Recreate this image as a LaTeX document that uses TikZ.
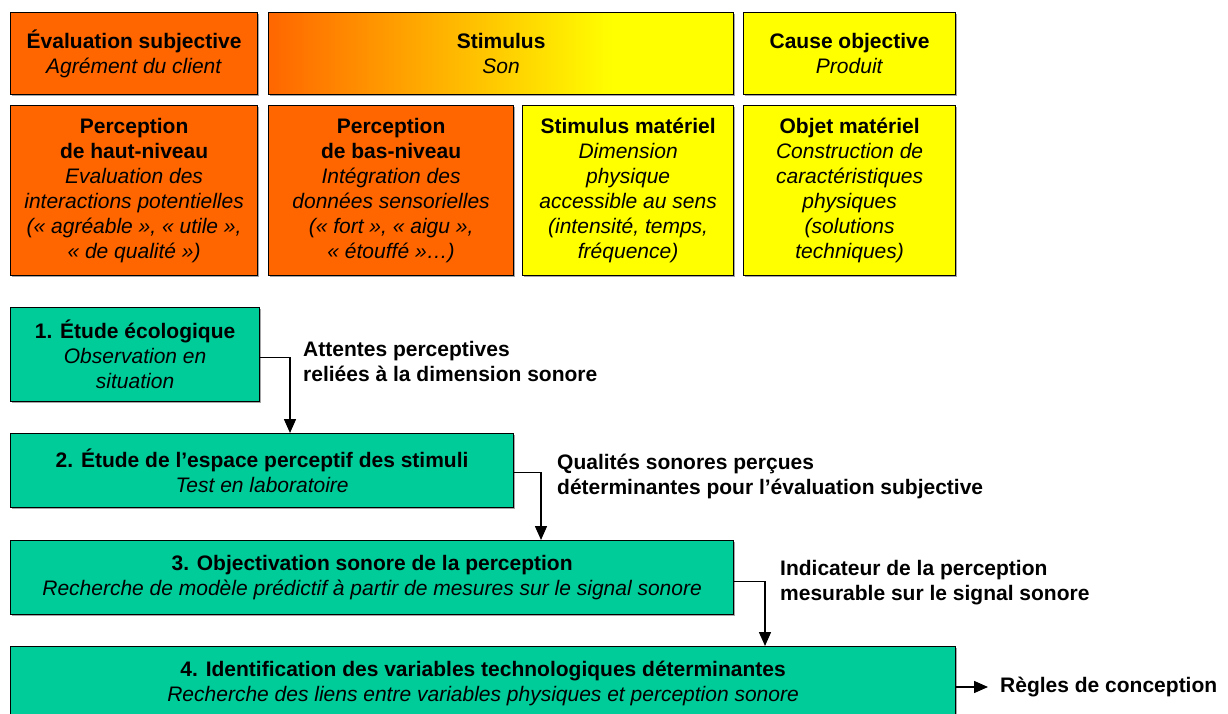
\documentclass[tikz,border=0pt]{standalone}
\usepackage{fontspec}
\setmainfont{Liberation Sans}
\usetikzlibrary{arrows.meta,shadows}
\definecolor{orng}{HTML}{FF6600}
\definecolor{yell}{HTML}{FFFF00}
\definecolor{grn}{HTML}{00CC99}
\pgfdeclarehorizontalshading{stimshade}{100bp}{color(0bp)=(orng); color(25bp)=(orng); color(62bp)=(yell); color(100bp)=(yell)}
\begin{document}
\begin{tikzpicture}[x=1pt,y=-1pt,
 box/.style={draw=black, line width=1.2pt, anchor=north west, inner sep=0pt, align=center,
   font=\fontsize{21}{25}\selectfont,
   drop shadow={shadow xshift=1.5pt, shadow yshift=-1.5pt, fill=black!35, opacity=1}},
 obox/.style={box, fill=orng},
 sbox/.style={box, shading=stimshade},
 ybox/.style={box, fill=yell},
 gbox/.style={box, fill=grn},
 lbl/.style={anchor=west, inner sep=0pt, align=left, font=\fontsize{21}{25}\selectfont\bfseries},
 conn/.style={draw=black, line width=1.5pt, -{Triangle[length=14pt,width=12pt]}}
]
\clip (0,0) rectangle (1228,714);
\fill[white] (0,0) rectangle (1228,714);

% row 1
\node[obox, minimum width=247pt, minimum height=82pt] (evs) at (10,12)
  {\textbf{Évaluation subjective}\\\textit{Agrément du client}};
\node[sbox, minimum width=465pt, minimum height=82pt] (stim) at (268,12)
  {\textbf{Stimulus}\\\textit{Son}};
\node[ybox, minimum width=212pt, minimum height=82pt] (cause) at (743,12)
  {\textbf{Cause objective}\\\textit{Produit}};

% row 2
\node[obox, minimum width=247pt, minimum height=170pt] (ph) at (10,105)
  {\textbf{Perception}\\\textbf{de haut-niveau}\\\textit{Evaluation des}\\\textit{interactions potentielles}\\\textit{(«~agréable~», «~utile~»,}\\\textit{«~de qualité~»)}};
\node[obox, minimum width=245pt, minimum height=170pt] (pb) at (268,105)
  {\textbf{Perception}\\\textbf{de bas-niveau}\\\textit{Intégration des}\\\textit{données sensorielles}\\\textit{(«~fort~», «~aigu~»,}\\\textit{«~étouffé~»…)}};
\node[ybox, minimum width=211pt, minimum height=170pt] (sm) at (522,105)
  {\textbf{Stimulus matériel}\\\textit{Dimension}\\\textit{physique}\\\textit{accessible au sens}\\\textit{(intensité, temps,}\\\textit{fréquence)}};
\node[ybox, minimum width=212pt, minimum height=170pt] (om) at (743,105)
  {\textbf{Objet matériel}\\\textit{Construction de}\\\textit{caractéristiques}\\\textit{physiques}\\\textit{(solutions}\\\textit{techniques)}};

% steps
\node[gbox, minimum width=249pt, minimum height=94pt] (s1) at (10,307)
  {\textbf{1. Étude écologique}\\\textit{Observation en}\\\textit{situation}};
\node[gbox, minimum width=503pt, minimum height=74pt] (s2) at (10,433)
  {\textbf{2. Étude de l’espace perceptif des stimuli}\\\textit{Test en laboratoire}};
\node[gbox, minimum width=723pt, minimum height=74pt] (s3) at (10,540)
  {\textbf{3. Objectivation sonore de la perception}\\\textit{Recherche de modèle prédictif à partir de mesures sur le signal sonore}};
\node[gbox, minimum width=945pt, minimum height=74pt] (s4) at (10,646)
  {\textbf{4. Identification des variables technologiques déterminantes}\\\textit{Recherche des liens entre variables physiques et perception sonore}};

% labels
\node[lbl] (l1) at (303,361.5) {Attentes perceptives\\reliées à la dimension sonore};
\node[lbl] (l2) at (557,476.5) {Qualités sonores perçues\\déterminantes pour l’évaluation subjective};
\node[lbl] (l3) at (780,582.5) {Indicateur de la perception\\mesurable sur le signal sonore};
\node[lbl] (rules) at (1000,687) {Règles de conception};

% connectors
\draw[conn] ([yshift=-3pt]s1.east) -| ([xshift=280pt]s2.north west);
\draw[conn] ([yshift=-2pt]s2.east) -| ([xshift=531pt]s3.north west);
\draw[conn] ([yshift=-4pt]s3.east) -| ([xshift=755pt]s4.north west);
\draw[conn, shorten >=12pt] (s4.east |- rules.west) -- (rules.west);
\end{tikzpicture}
\end{document}
